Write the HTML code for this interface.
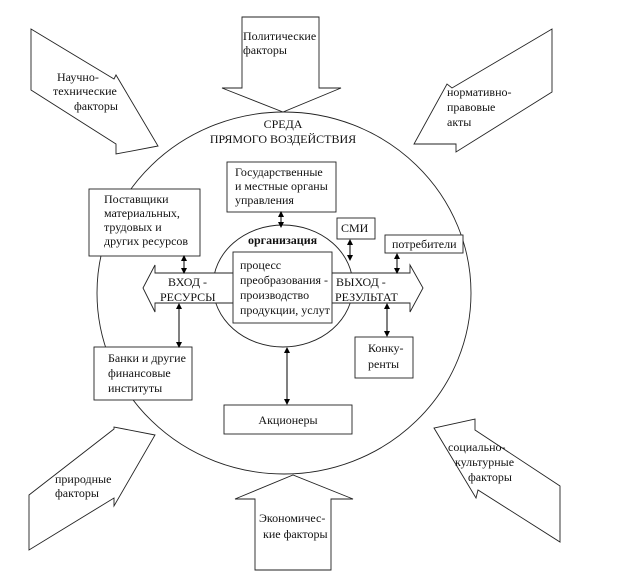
<!DOCTYPE html>
<html><head><meta charset="utf-8"><style>
html,body{margin:0;padding:0;background:#fff}
text{font-family:"Liberation Serif",serif;font-size:12px;fill:#111}
</style></head><body>
<svg width="623" height="573" viewBox="0 0 623 573" xmlns="http://www.w3.org/2000/svg">
<defs>
<marker id="a" markerWidth="6" markerHeight="6" refX="3" refY="3" orient="auto-start-reverse"><path d="M0,0L6,3L0,6z" fill="#000"/></marker>
</defs>
<g fill="#fff" stroke="#222" stroke-width="0.9">
<!-- big circle -->
<ellipse cx="284" cy="293" rx="187" ry="181"/>
<!-- factor arrows -->
<polygon points="242,17 319,17 319,88 341,88 283,112 222,88 242,88"/>
<polygon points="255,570 331,570 331,499 353,499 293,475 235,499 255,499"/>
<polygon points="31,29 114,79 116,75 158,146 116,154 116,144 31,90"/>
<polygon points="552,29 552,92 456,152 456,144 414,144 447,84 452,88"/>
<polygon points="29,550 29,495 114,429 114,427 155,435 114,506 114,498"/>
<polygon points="560,542 560,486 475,430 475,419 434,428 476,498 478,490"/>
<!-- inner circle -->
<ellipse cx="283" cy="286" rx="70" ry="61"/>
<!-- double arrow -->
<polygon points="143,288 155,265 155,273 410,273 410,265 423,288 410,312 410,303 155,303 155,312"/>
<!-- boxes -->
<rect x="227" y="162" width="109" height="50"/>
<rect x="89" y="189" width="111" height="67"/>
<rect x="337" y="218" width="38" height="21"/>
<rect x="385" y="235" width="78" height="18"/>
<rect x="233" y="252" width="99" height="71"/>
<rect x="355" y="337" width="58" height="41"/>
<rect x="94" y="347" width="98" height="53"/>
<rect x="224" y="405" width="128" height="29"/>
</g>
<g stroke="#000" stroke-width="1" marker-start="url(#a)" marker-end="url(#a)">
<line x1="281" y1="214" x2="281" y2="225"/>
<line x1="184" y1="258" x2="184" y2="271"/>
<line x1="179" y1="306" x2="179" y2="345"/>
<line x1="350" y1="242" x2="350" y2="258"/>
<line x1="397" y1="256" x2="397" y2="271"/>
<line x1="387" y1="306" x2="387" y2="334"/>
<line x1="287" y1="350" x2="287" y2="402"/>
</g>
<text x="283" y="128" text-anchor="middle">СРЕДА</text>
<text x="283" y="143" text-anchor="middle">ПРЯМОГО ВОЗДЕЙСТВИЯ</text>
<text x="243" y="40">Политические</text>
<text x="243" y="54">факторы</text>
<text x="57" y="81">Научно-</text>
<text x="53" y="95">технические</text>
<text x="74" y="110">факторы</text>
<text x="447" y="96">нормативно-</text>
<text x="447" y="111">правовые</text>
<text x="447" y="126">акты</text>
<text x="55" y="483">природные</text>
<text x="55" y="497">факторы</text>
<text x="448" y="451">социально-</text>
<text x="455" y="466">культурные</text>
<text x="468" y="481">факторы</text>
<text x="259" y="522">Экономичес-</text>
<text x="263" y="538">кие факторы</text>
<text x="235" y="176">Государственные</text>
<text x="235" y="190">и местные органы</text>
<text x="235" y="204">управления</text>
<text x="104" y="203">Поставщики</text>
<text x="104" y="217">материальных,</text>
<text x="104" y="231">трудовых и</text>
<text x="104" y="245">других ресурсов</text>
<text x="341" y="232">СМИ</text>
<text x="392" y="248">потребители</text>
<text x="248" y="244" font-weight="bold">организация</text>
<text x="240" y="269">процесс</text>
<text x="240" y="284">преобразования -</text>
<text x="240" y="299">производство</text>
<text x="240" y="314">продукции, услут</text>
<text x="168" y="286">ВХОД -</text>
<text x="160" y="301">РЕСУРСЫ</text>
<text x="336" y="286">ВЫХОД -</text>
<text x="335" y="301">РЕЗУЛЬТАТ</text>
<text x="368" y="352">Конку-</text>
<text x="368" y="368">ренты</text>
<text x="108" y="362">Банки и другие</text>
<text x="108" y="377">финансовые</text>
<text x="108" y="392">институты</text>
<text x="288" y="424" text-anchor="middle">Акционеры</text>
</svg>
</body></html>
